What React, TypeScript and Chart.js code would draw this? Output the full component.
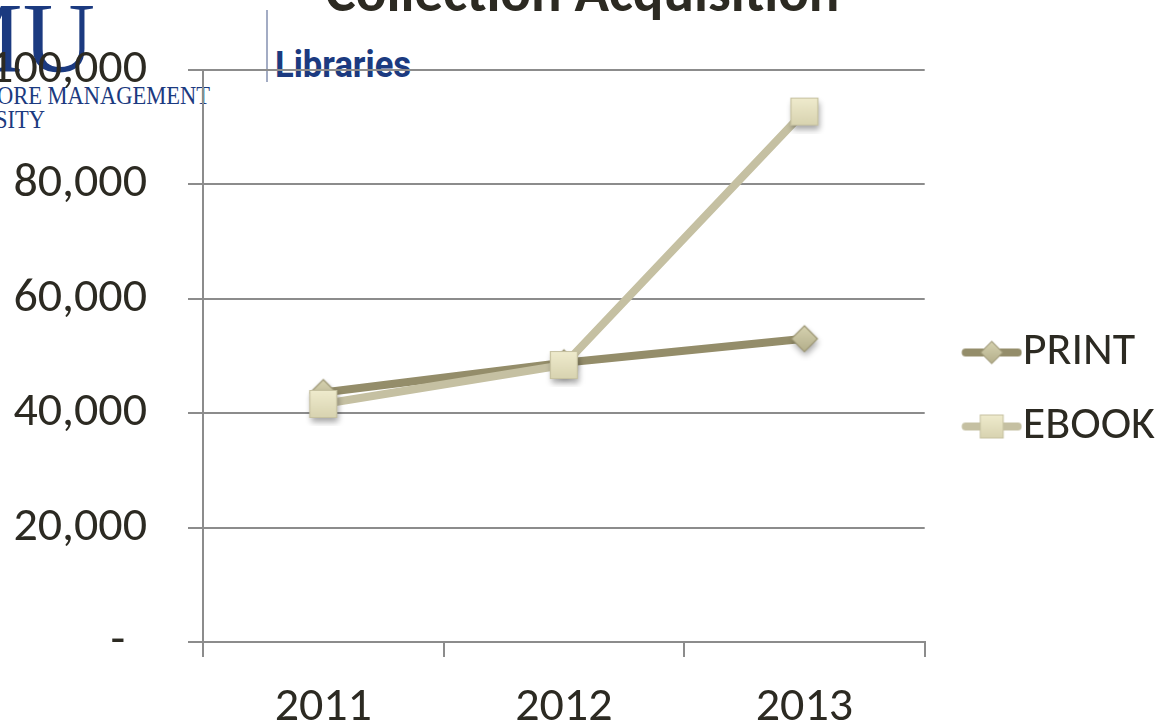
import { useEffect, useRef } from "react";
import { Chart, registerables } from "chart.js";

Chart.register(...registerables);

const years = ["2011", "2012", "2013"];
const printValues = [43600, 48800, 53000];
const ebookValues = [41600, 48400, 92700];
const yTicks = [0, 20000, 40000, 60000, 80000, 100000];

const FONT = "Carlito, Lato, sans-serif";
const TEXT = "#2c2a22";
const GRID = "#8c8c8c";
const PRINT_LINE = "#948d6a";
const EBOOK_LINE = "#c5c0a2";

type Shape = "diamond" | "square";

// marker with a vertical gradient and a soft drop shadow, like the office chart
function drawMarker(ctx: CanvasRenderingContext2D, cx: number, cy: number, shape: Shape, shadow: boolean) {
  const h = shape === "diamond" ? 13 : 13.5;
  const g = ctx.createLinearGradient(0, cy - h, 0, cy + h);
  if (shape === "diamond") {
    g.addColorStop(0, "#d6d2b0");
    g.addColorStop(1, "#b3ae8a");
  } else {
    g.addColorStop(0, "#efebcd");
    g.addColorStop(1, "#d8d3b0");
  }
  ctx.save();
  if (shadow) {
    ctx.shadowColor = "rgba(0,0,0,0.35)";
    ctx.shadowBlur = 6;
    ctx.shadowOffsetX = 1;
    ctx.shadowOffsetY = 4;
  }
  ctx.fillStyle = g;
  ctx.beginPath();
  if (shape === "diamond") {
    ctx.moveTo(cx, cy - h);
    ctx.lineTo(cx + h, cy);
    ctx.lineTo(cx, cy + h);
    ctx.lineTo(cx - h, cy);
    ctx.closePath();
  } else {
    ctx.rect(cx - h, cy - h, 2 * h, 2 * h);
  }
  ctx.fill();
  ctx.restore();
  ctx.strokeStyle = shape === "diamond" ? "#9c9674" : "#c6c1a0";
  ctx.lineWidth = 1.2;
  ctx.stroke();
}

function makeMarker(shape: Shape) {
  const c = document.createElement("canvas");
  c.width = 44;
  c.height = 44;
  drawMarker(c.getContext("2d")!, 22, 22, shape, true);
  return c;
}

// legend sample: line with the marker in the middle (transparent room on the left)
function makeIcon(line: string, shape: Shape) {
  const c = document.createElement("canvas");
  c.width = 92;
  c.height = 32;
  const ctx = c.getContext("2d")!;
  ctx.strokeStyle = line;
  ctx.lineWidth = 8;
  ctx.lineCap = "round";
  ctx.beginPath();
  ctx.moveTo(35.5, 16);
  ctx.lineTo(87.5, 16);
  ctx.stroke();
  ctx.save();
  ctx.translate(61.5, 16);
  ctx.scale(0.85, 0.85);
  drawMarker(ctx, 0, 0, shape, false);
  ctx.restore();
  return c;
}

export default function App() {
  const canvasRef = useRef<HTMLCanvasElement | null>(null);

  useEffect(() => {
    document.body.style.margin = "0";
    const ctx = canvasRef.current?.getContext("2d");
    if (!ctx) return;

    const printIcon = makeIcon(PRINT_LINE, "diamond");
    const ebookIcon = makeIcon(EBOOK_LINE, "square");

    const chart = new Chart(ctx, {
      type: "line",
      data: {
        labels: years,
        datasets: [
          {
            label: "PRINT",
            data: printValues,
            borderColor: PRINT_LINE,
            borderWidth: 8,
            pointStyle: makeMarker("diamond"),
            order: 2,
          },
          {
            label: "EBOOK",
            data: ebookValues,
            borderColor: EBOOK_LINE,
            borderWidth: 8,
            pointStyle: makeMarker("square"),
            order: 1,
          },
        ],
      },
      options: {
        animation: false,
        responsive: false,
        plugins: {
          tooltip: { enabled: false },
          title: {
            display: true,
            text: "Collection Acquisition",
            color: TEXT,
            font: { family: FONT, size: 57, weight: "bold" },
            padding: { top: -45, bottom: 39 },
          },
          legend: {
            position: "right",
            maxWidth: 242,
            title: { display: true, text: " ", padding: 0, font: { size: 45 } },
            labels: {
              usePointStyle: true,
              pointStyleWidth: 47,
              padding: 28,
              color: TEXT,
              font: { family: FONT, size: 46 },
              generateLabels: () => [
                { text: "PRINT", pointStyle: printIcon, fontColor: TEXT, datasetIndex: 0, lineWidth: 0 },
                { text: "EBOOK", pointStyle: ebookIcon, fontColor: TEXT, datasetIndex: 1, lineWidth: 0 },
              ],
            },
          },
        },
        scales: {
          x: {
            offset: true,
            afterFit: (scale: any) => {
              scale.height = 83;
            },
            grid: {
              offset: true,
              drawOnChartArea: false,
              drawTicks: true,
              tickLength: 15,
              color: GRID,
              lineWidth: 2,
            },
            border: { display: true, color: GRID, width: 2 },
            ticks: {
              color: TEXT,
              font: { family: FONT, size: 48 },
              padding: 22,
              maxRotation: 0,
            },
          },
          y: {
            min: 0,
            max: 100000,
            afterFit: (scale: any) => {
              scale.width = 203;
            },
            afterBuildTicks: (scale: any) => {
              scale.ticks = yTicks.map((v) => ({ value: v }));
            },
            grid: {
              drawTicks: true,
              tickLength: 15,
              color: GRID,
              lineWidth: 2,
            },
            border: { display: true, color: GRID, width: 2 },
            ticks: {
              color: TEXT,
              font: { family: FONT, size: 48 },
              padding: 41,
              callback: (v: any) => (Number(v) === 0 ? "-  " : Number(v).toLocaleString("en-US")),
            },
          },
        },
      },
    });

    return () => {
      chart.destroy();
    };
  }, []);

  const serifSmall = {
    position: "absolute" as const,
    fontFamily: "'Liberation Serif', serif",
    fontSize: 25,
    lineHeight: "24px",
    whiteSpace: "nowrap" as const,
    transform: "scaleX(0.9)",
    transformOrigin: "right",
  };

  return (
    <div style={{ position: "relative", width: 1165, height: 725, overflow: "hidden", background: "#fff" }}>
      <div style={{ position: "absolute", inset: 0, zIndex: 0, color: "#1b3a80" }}>
        <div
          style={{
            position: "absolute",
            right: 1070,
            top: -12,
            fontFamily: "'Liberation Serif', serif",
            fontSize: 100,
            lineHeight: "100px",
            whiteSpace: "nowrap",
          }}
        >
          SMU
        </div>
        <div style={{ ...serifSmall, right: 955, top: 84 }}>SINGAPORE MANAGEMENT</div>
        <div style={{ ...serifSmall, right: 1120, top: 108 }}>UNIVERSITY</div>
        <div style={{ position: "absolute", left: 266, top: 10, width: 2, height: 72, background: "#a3acc4" }} />
        <div
          style={{
            position: "absolute",
            left: 275,
            top: 45,
            fontFamily: "Roboto, sans-serif",
            fontWeight: 700,
            fontSize: 36,
            lineHeight: "40px",
            transform: "scaleX(0.96)",
            transformOrigin: "left",
            whiteSpace: "nowrap",
          }}
        >
          Libraries
        </div>
      </div>
      <canvas
        ref={canvasRef}
        width={1165}
        height={725}
        style={{ position: "absolute", left: 0, top: 0, zIndex: 1, width: 1165, height: 725 }}
      />
    </div>
  );
}
